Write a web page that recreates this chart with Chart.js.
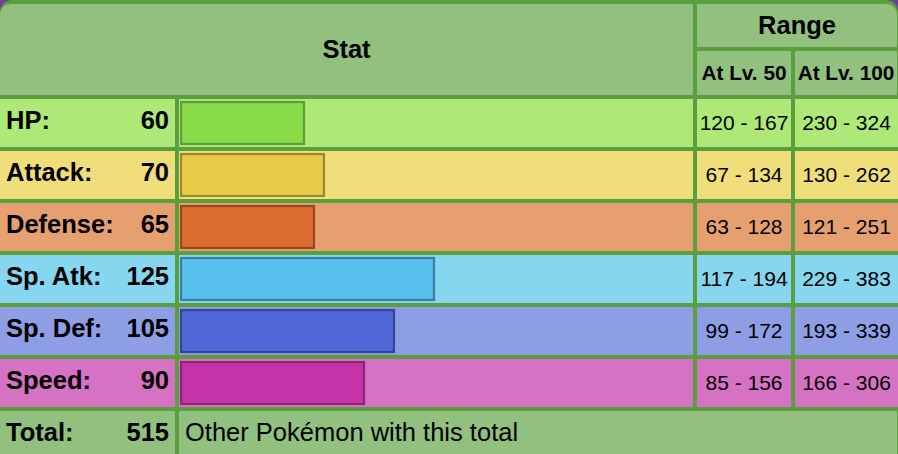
<!DOCTYPE html>
<html>
<head>
<meta charset="utf-8">
<script src="https://cdn.jsdelivr.net/npm/chart.js@4.4.1/dist/chart.umd.min.js"></script>
<style>
html,body{margin:0;padding:0;}
body{width:898px;height:454px;overflow:hidden;position:relative;background:#6B3FA0;
  font-family:"Liberation Sans",Arial,Helvetica,sans-serif;color:#000;}
#frame{position:absolute;left:0;top:0;width:898px;height:470px;background:#5B9E3D;border-radius:12px 12px 0 0;}
.c{position:absolute;box-sizing:border-box;overflow:hidden;white-space:nowrap;}
.b{font-weight:bold;font-size:25.5px;}
.s{font-size:21px;}
.hs{font-weight:bold;font-size:20.8px;}
#chartBox{position:absolute;left:0;top:0;width:898px;height:454px;z-index:5;}
</style>
</head>
<body>
<div id="frame"></div>
<div id="cells"></div>
<div id="chartBox"><canvas id="c" width="898" height="454"></canvas></div>
<script>
// ---- data ----
const headerStat = 'Stat';
const headerRange = 'Range';
const headerLevels = ['At Lv. 50', 'At Lv. 100'];
const statLabels = ['HP:', 'Attack:', 'Defense:', 'Sp. Atk:', 'Sp. Def:', 'Speed:'];
const statValues = [60, 70, 65, 125, 105, 90];
const rangeLv50 = ['120 - 167', '67 - 134', '63 - 128', '117 - 194', '99 - 172', '85 - 156'];
const rangeLv100 = ['230 - 324', '130 - 262', '121 - 251', '229 - 383', '193 - 339', '166 - 306'];
const totalLabel = 'Total:';
const totalValue = 515;
const totalText = 'Other Pokémon with this total';

// ---- styles ----
const headBg = '#92C07E';
const rowBg = ['#AEE876', '#F0DE7A', '#E6A070', '#86D6F0', '#8E9EE4', '#D672C4'];
const barFill = ['#89DB48', '#E8CC48', '#DC6C30', '#58C0EC', '#5068D8', '#C434A8'];
const barEdge = ['#5B9E3D', '#9C8830', '#96481E', '#3880A8', '#344496', '#8C2478'];

// ---- layout (table cells) ----
const cells = document.getElementById('cells');
function cell(x, y, w, h, bg, extra) {
  const d = document.createElement('div');
  d.className = 'c';
  d.style.left = x + 'px'; d.style.top = y + 'px';
  d.style.width = w + 'px'; d.style.height = h + 'px';
  if (bg) d.style.background = bg;
  if (extra) Object.assign(d.style, extra);
  cells.appendChild(d);
  return d;
}
function text(x, y, w, h, str, cls, align, dy) {
  const d = cell(x, y + (dy || 0), w, h, null, {lineHeight: h + 'px', textAlign: align || 'left'});
  d.className = 'c ' + cls;
  d.textContent = str;
  return d;
}
const colX = [0, 179, 697, 795];
const colW = [175, 514, 94, 103];
// header
cell(0, 4, 693, 91, headBg, {borderTopLeftRadius: '10px'});
text(0, 4, 693, 91, headerStat, 'b', 'center', 0);
cell(697, 4, 200, 43, headBg, {borderTopRightRadius: '10px'});
text(697, 4, 200, 43, headerRange, 'b', 'center', 0);
cell(697, 51, 94, 44, headBg);
text(697, 51, 94, 44, headerLevels[0], 'hs', 'center', 0);
cell(795, 51, 102, 44, headBg);
text(795, 51, 102, 44, headerLevels[1], 'hs', 'center', 0);
// stat rows
statLabels.forEach((lab, i) => {
  const y = 99 + 52 * i;
  for (let k = 0; k < 4; k++) cell(colX[k], y, colW[k], 48, rowBg[i]);
  text(6, y, 170, 48, lab, 'b', 'left', -3);
  text(0, y, 169, 48, String(statValues[i]), 'b', 'right', -3);
  text(697, y, 94, 48, rangeLv50[i], 's', 'center', 0);
  text(795, y, 103, 48, rangeLv100[i], 's', 'center', 0);
});
// total row
const ty = 99 + 52 * 6;
cell(0, ty, 175, 48, headBg);
cell(179, ty, 718, 48, headBg);
text(6, ty, 170, 48, totalLabel, 'b', 'left', -3);
text(0, ty, 169, 48, String(totalValue), 'b', 'right', -3);
text(185, ty, 700, 48, totalText, 'b', 'left', -3).style.fontWeight = 'normal';

// ---- bars through Chart.js ----
new Chart(document.getElementById('c'), {
  type: 'bar',
  data: {
    labels: statLabels,
    datasets: [{
      data: statValues,
      backgroundColor: barFill,
      borderColor: barEdge,
      borderWidth: 2.5,
      borderSkipped: false,
      borderRadius: 0,
      barThickness: 44,
      base: -2.5
    }]
  },
  options: {
    indexAxis: 'y',
    responsive: false,
    animation: false,
    events: [],
    layout: {padding: {left: 180, right: 204, top: 97, bottom: 45}},
    plugins: {legend: {display: false}, tooltip: {enabled: false}},
    scales: {
      x: {type: 'linear', min: -2.5, max: 254.5, display: false},
      y: {type: 'category', display: false, offset: true}
    }
  }
});
</script>
</body>
</html>
